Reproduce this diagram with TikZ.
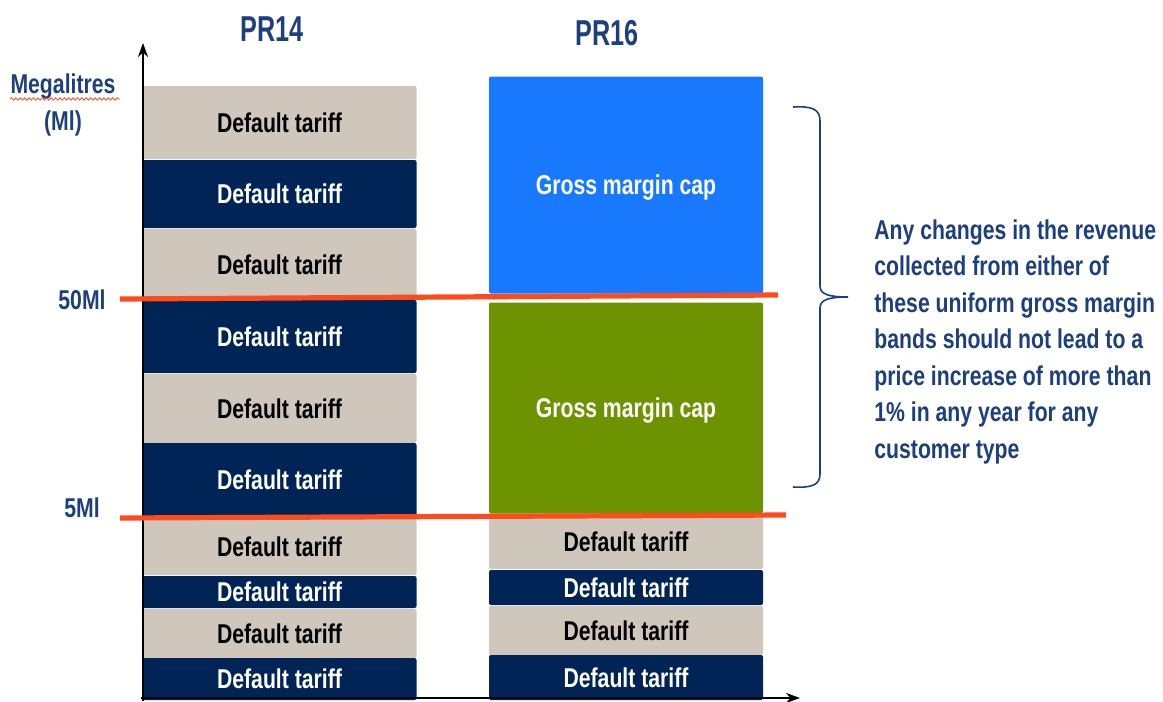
\documentclass[tikz,border=0pt]{standalone}
\usepackage{xcolor}
\usepackage{fontspec}
\newfontfamily\estrecha{Liberation Sans}[FakeStretch=0.78]
\newfontfamily\titular{Liberation Sans}[FakeStretch=0.7]
\usetikzlibrary{arrows.meta,decorations.pathmorphing}
\definecolor{azulosc}{HTML}{002456}
\definecolor{gris}{HTML}{D0C7BC}
\definecolor{azulvivo}{HTML}{1879FF}
\definecolor{verde}{HTML}{6E9300}
\definecolor{rojo}{HTML}{FF4A1C}
\definecolor{azultexto}{HTML}{1C3F7F}

\begin{document}
\begin{tikzpicture}[x=0.5pt,y=-0.5pt,
	font=\estrecha\bfseries\fontsize{13.6}{18.25}\selectfont,
	banda/.style={rectangle, rounded corners=1pt, inner sep=0pt, minimum width=137pt},
	claro/.style={banda, fill=gris, text=black},
	oscuro/.style={banda, fill=azulosc, text=white},
	tope/.style={banda, text=white, text depth=0pt},
	eje/.style={line width=1.3pt, -{Stealth[length=7pt,width=5pt]}},
	umbral/.style={line width=2.6pt, rojo},
	rotulo/.style={text=azultexto, inner sep=0pt}]
	\useasboundingbox (0,0) rectangle (1163,702);
	% Columna PR14: bandas de tarifa por defecto
	\foreach \i/\arriba/\abajo/\tipo in {1/86/159/claro, 2/160/228/oscuro, 3/229/300/claro,
		4/300/373/oscuro, 5/374/443/claro, 6/443/517/oscuro, 7/519/575/claro,
		8/576/608/oscuro, 9/609/658/claro, 10/658/700/oscuro}
		\node[\tipo, minimum height={(\abajo-\arriba)*0.5pt}] (L\i) at (279.5,{(\arriba+\abajo)/2}) {Default tariff};
	% Columna PR16: topes de margen bruto
	\node[tope, fill=azulvivo, minimum height=108.5pt] (R1) at (626,185) {Gross margin cap};
	\node[tope, fill=verde, minimum height=105.5pt] (R2) at (626,408) {Gross margin cap};
	% Columna PR16: bandas de tarifa por defecto
	\foreach \i/\arriba/\abajo/\tipo in {3/515/569/claro, 4/570/605/oscuro, 5/606/655/claro, 6/655/700/oscuro}
		\node[\tipo, minimum height={(\abajo-\arriba)*0.5pt}] (R\i) at (626,{(\arriba+\abajo)/2}) {Default tariff};
	% Títulos de las columnas
	\node[rotulo, font=\titular\bfseries\fontsize{18}{20}\selectfont] (pr14) at (272,29) {PR14};
	\node[rotulo, font=\titular\bfseries\fontsize{18}{20}\selectfont] (pr16) at (607,33) {PR16};
	% Unidad del eje vertical
	\node[rotulo] (mega) at (63,87) {Megalitres};
	\node[rotulo] (ml) at (63,123) {(Ml)};
	\draw[rojo, line width=0.4pt, decorate, decoration={snake, amplitude=0.6pt, segment length=2.2pt}]
	([yshift=-2.5pt]mega.base west) -- ([xshift=2pt,yshift=-2.5pt]mega.base east);
	% Ejes
	\coordinate (origen) at (143,698);
	\draw[eje] (143,701) -- (143,43);
	\draw[eje] (141,698) -- (800,698);
	% Umbrales de 50Ml y 5Ml
	\node[rotulo] (q50) at (82,300) {50Ml};
	\node[rotulo] (q5) at (82,508) {5Ml};
	\coordinate (u50a) at (120,299);
	\coordinate (u50b) at (778,295);
	\coordinate (u5a) at (120,518);
	\coordinate (u5b) at (786,515);
	\draw[umbral] (u50a) -- (u50b);
	\draw[umbral] (u5a) -- (u5b);
	% Llave sobre los topes de margen bruto
	\coordinate (llavea) at (793,107);
	\coordinate (llavem) at (848,297);
	\coordinate (llaveb) at (793,487);
	\draw[azultexto, line width=0.8pt]
	(llavea) .. controls (812,106) and (820,109) .. (820,121) -- (820,286)
	.. controls (820,294) and (828,297) .. (llavem)
	.. controls (828,297) and (820,300) .. (820,308) -- (820,474)
	.. controls (820,485) and (812,488) .. (llaveb);
	% Nota explicativa
	\node[rotulo, anchor=north west, align=left] (nota) at (874,219) {Any changes in the revenue\\
		collected from either of\\
		these uniform gross margin\\
		bands should not lead to a\\
		price increase of more than\\
		1\% in any year for any\\
		customer type};
\end{tikzpicture}
\end{document}
